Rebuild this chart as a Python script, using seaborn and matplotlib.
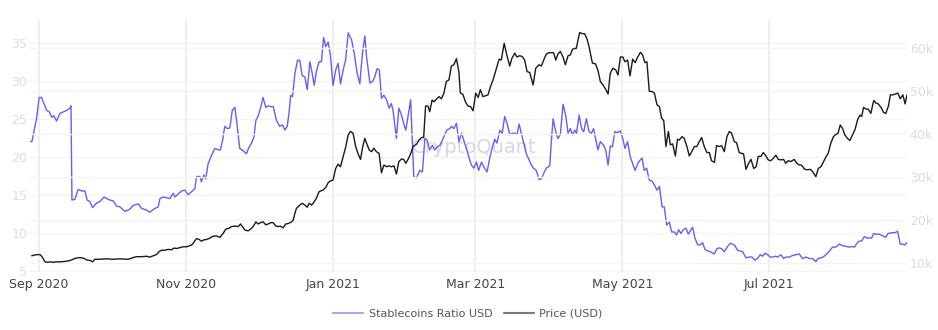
import matplotlib
matplotlib.use("Agg")
import matplotlib.pyplot as plt
from matplotlib.lines import Line2D
import seaborn as sns
import pandas as pd

START = "2020-09-01"

# Stablecoins Ratio USD (day offset from START, value)
ratio_days = [-3.7,-2.9,-1.0,0.1,1.1,3.2,4.3,5.3,6.2,7.3,8.7,10.1,11.5,12.9,13.3,13.7,14.9,16.3,17.7,19.1,20.0,21.1,22.3,23.9,25.3,27.0,28.1,29.4,30.8,32.2,33.6,35.7,37.7,39.1,41.2,42.6,44.6,46.0,48.1,49.5,50.2,51.6,52.9,54.3,55.7,56.4,57.8,59.2,60.5,61.9,63.3,64.7,65.4,66.8,67.4,68.4,69.2,70.2,71.6,73.0,74.4,75.3,76.2,77.1,78.1,79.2,80.2,81.3,82.2,83.3,84.7,86.1,87.2,88.2,89.2,90.0,90.9,92.1,93.0,94.1,95.1,96.1,97.2,98.5,99.9,101.0,102.0,103.0,103.8,104.4,105.2,106.2,107.3,108.2,109.2,110.3,111.3,112.4,113.3,114.2,115.1,116.2,
    117.2,118.1,119.0,120.0,120.9,122.0,123.1,124.1,125.1,126.2,127.2,128.3,129.7,130.8,132.0,133.1,134.2,135.2,135.9,137.3,138.4,139.3,140.3,141.2,142.1,143.1,144.2,145.3,146.2,146.9,148.3,149.3,150.4,151.3,152.2,153.1,154.2,155.5,156.6,158.0,159.1,160.1,161.0,162.1,163.2,164.2,165.2,166.3,167.4,168.3,169.3,170.4,171.2,172.1,173.2,174.2,175.3,176.2,177.3,178.3,179.4,180.4,181.5,182.4,183.6,184.5,185.9,187.0,188.1,189.1,190.0,191.2,192.2,193.2,194.2,195.3,196.4,197.4,198.4,199.2,200.1,201.1,202.2,203.3,204.3,205.2,206.3,207.5,208.4,209.4,210.5,211.9,212.6,213.3,214.4,215.3,216.3,217.4,218.5,219.5,220.5,221.3,222.3,223.0,224.1,225.1,226.0,227.1,228.2,229.2,230.1,230.9,231.9,232.9,234.3,235.1,236.1,237.0,237.9,238.9,239.9,240.7,
    241.2,242.2,243.1,244.2,245.3,246.3,247.3,248.4,249.5,250.2,251.1,252.1,253.2,254.3,255.3,256.4,257.4,258.5,259.4,260.4,261.5,262.5,263.6,264.5,265.4,266.3,267.3,268.4,269.4,270.5,271.2,272.1,273.3,274.4,275.3,276.3,277.4,278.5,280.1,281.3,282.2,283.2,284.3,285.7,286.8,287.8,288.7,289.8,290.9,291.9,293.3,294.7,295.8,297.0,298.1,299.2,300.2,301.1,302.3,303.4,304.4,305.5,306.4,307.8,308.9,309.9,311.3,312.6,314.0,315.4,316.8,318.2,319.6,320.9,322.3,323.2,324.6,325.7,327.1,328.2,329.2,330.6,332.0,333.4,334.8,336.2,337.3,338.3,339.3,340.3,341.3,342.4,343.5,344.5,345.4,346.3,347.2,348.6,350.0,351.3,352.2,353.7,355.1,356.2,357.3,358.3,359.3,360.1]
ratio_vals = [22.0,22.0,25.0,27.8,27.8,26.1,25.9,25.2,25.4,24.7,25.7,25.9,26.1,26.4,26.7,14.3,14.4,15.7,15.5,15.5,14.3,14.1,13.3,13.9,14.1,14.7,14.5,14.3,14.2,13.5,13.4,12.8,13.1,13.6,13.8,13.2,13.0,12.7,13.2,13.4,14.5,14.7,14.6,14.5,15.2,14.7,15.1,15.5,15.6,15.0,15.4,15.8,17.4,17.4,16.7,17.6,17.1,19.1,20.2,21.1,20.9,20.9,22.2,24.0,23.7,23.8,26.1,26.5,24.2,21.1,20.8,20.4,21.3,21.8,22.6,24.8,25.3,26.6,27.8,26.5,26.7,26.6,26.6,24.8,24.0,24.2,23.5,24.0,25.9,28.1,27.9,31.0,32.7,32.7,30.7,30.5,28.8,32.5,31.1,29.4,31.2,32.5,
    32.5,35.7,34.5,35.1,33.4,29.4,31.4,32.3,29.6,31.4,32.7,36.3,35.4,33.6,31.0,29.6,33.6,35.9,33.2,29.7,29.9,30.5,31.6,31.4,27.7,28.1,27.5,26.4,27.0,26.1,22.4,26.4,25.5,24.4,23.5,25.3,27.5,17.4,17.2,18.2,18.0,22.4,22.2,20.9,21.5,20.9,21.3,21.5,22.2,22.9,23.5,23.7,24.0,23.7,24.4,22.0,23.1,22.2,21.1,20.0,18.9,18.5,19.3,18.2,19.3,18.7,18.0,19.8,21.3,22.3,21.8,23.5,23.1,25.3,24.4,22.9,23.1,23.1,23.0,24.3,23.1,21.8,20.4,19.6,18.9,18.5,18.2,17.0,17.1,17.8,18.5,18.8,22.2,25.0,23.3,22.4,22.9,26.9,25.5,23.1,23.7,22.9,23.5,23.1,25.5,23.7,23.3,25.0,23.3,23.1,23.7,22.4,20.9,22.0,21.5,20.9,18.9,21.4,21.3,23.3,23.2,23.3,
    23.4,22.4,21.1,22.0,20.0,19.1,18.2,19.1,19.6,19.8,18.2,18.5,16.9,16.8,16.3,15.6,16.1,13.4,13.4,11.0,11.4,10.1,10.1,9.7,10.4,9.9,10.4,10.6,9.8,10.4,10.7,9.3,8.4,8.4,8.7,7.8,7.6,7.5,7.2,7.9,8.0,7.9,7.5,8.2,8.6,8.5,8.3,7.7,7.6,7.5,6.7,6.8,6.8,6.4,6.6,7.1,6.9,7.3,7.1,6.8,6.8,6.9,6.8,7.1,6.6,6.8,6.8,7.0,7.1,7.2,6.6,6.8,6.6,6.6,6.2,6.6,6.7,6.9,7.3,7.7,8.1,8.1,8.5,8.3,8.2,8.1,8.2,8.1,8.6,8.9,8.9,9.5,9.3,9.3,9.3,9.9,9.8,9.8,9.6,9.4,9.9,10.0,10.0,10.2,8.5,8.5,8.4,8.7]

# Price (USD), in thousands
price_days = [-3.0,-1.7,-0.3,0.7,1.5,2.5,3.5,4.6,5.9,7.3,8.7,10.8,12.9,15.0,17.0,18.7,20.0,21.4,22.3,23.2,25.3,28.1,30.8,33.6,36.4,37.7,39.1,40.5,42.6,44.6,46.0,47.4,48.8,49.9,50.9,52.2,53.6,55.0,56.0,57.1,58.5,59.8,61.2,62.3,63.3,64.0,64.7,65.4,66.5,67.4,68.4,69.5,70.9,72.3,73.7,75.1,76.4,77.5,78.9,79.9,81.3,82.7,83.6,84.4,85.4,86.8,87.8,88.9,90.0,90.9,91.9,93.0,94.1,95.1,96.1,97.2,98.3,99.2,100.2,101.3,102.4,103.4,104.8,105.5,106.2,106.8,108.2,109.3,110.3,111.3,112.1,113.1,114.0,115.1,116.2,
    117.9,119.0,120.0,120.9,122.0,123.1,124.1,125.1,126.2,127.3,128.3,129.2,130.3,131.4,132.4,133.4,134.2,135.2,135.9,137.0,138.0,138.9,140.0,141.1,142.1,143.1,144.2,145.3,146.2,147.3,148.3,149.3,150.4,151.3,152.2,153.1,154.2,155.2,156.6,157.7,158.7,159.6,160.4,161.4,162.1,163.1,163.9,164.9,166.0,167.0,168.0,169.0,170.1,171.1,172.1,173.2,174.2,174.8,175.9,176.9,178.0,179.0,180.1,181.2,182.2,183.1,184.2,185.2,186.3,187.3,188.4,189.8,190.9,191.8,193.0,193.9,195.3,196.2,197.4,198.3,199.4,200.5,201.5,202.5,203.6,205.0,206.1,207.5,208.4,209.4,210.5,211.6,212.6,213.5,214.4,215.3,216.3,217.4,218.4,219.5,220.5,221.3,222.3,222.9,224.3,225.4,226.4,227.4,228.2,229.6,230.9,231.9,232.9,234.0,235.1,236.1,237.0,238.1,239.3,240.2,
    241.2,242.2,243.1,244.2,245.2,246.3,247.3,248.4,249.5,250.4,251.4,252.2,253.2,254.3,255.3,256.4,257.4,258.3,259.2,260.1,261.1,261.9,262.9,264.0,264.9,265.6,266.8,267.7,268.8,269.8,270.8,271.9,272.9,273.9,274.9,276.0,277.1,278.1,279.0,280.2,281.1,282.2,283.2,284.3,285.4,286.4,287.3,288.5,289.4,290.5,291.5,292.3,293.3,294.4,295.4,296.5,297.5,298.4,299.5,300.5,301.6,302.5,303.6,304.7,305.7,306.7,307.8,308.9,309.8,310.8,311.9,313.3,314.4,315.4,316.3,317.7,318.9,320.0,320.9,322.3,323.3,324.4,325.5,326.4,327.4,328.5,329.6,330.6,331.5,332.4,333.4,334.3,335.4,336.4,337.5,338.5,339.6,340.6,341.3,342.1,343.1,344.0,345.1,346.3,347.2,348.2,349.3,350.4,351.3,352.4,353.2,354.2,355.2,356.3,357.3,358.4,359.3,360.1]
price_vals = [11.6,11.8,11.9,11.8,11.2,10.2,10.1,10.2,10.1,10.2,10.2,10.3,10.5,11.0,11.2,11.0,10.6,10.5,10.2,10.8,10.8,10.9,10.8,10.9,10.8,10.9,11.2,11.4,11.4,11.5,11.3,11.6,11.9,12.6,12.9,12.9,13.1,13.0,13.4,13.3,13.5,13.7,13.7,13.9,14.1,14.5,15.1,15.6,15.4,15.0,15.3,15.4,15.7,16.2,16.2,15.9,16.8,17.8,18.0,18.4,18.5,18.4,19.0,18.4,17.6,17.4,17.8,18.4,19.5,19.0,19.3,19.5,18.8,19.0,19.3,19.3,18.5,18.4,18.5,18.1,19.0,19.1,19.5,19.9,21.5,22.6,23.4,23.8,23.4,22.9,23.8,23.4,24.0,25.0,26.5,
    26.9,27.5,28.6,29.0,29.2,31.9,32.9,32.3,34.7,37.0,39.7,40.5,40.1,37.0,35.3,34.0,36.6,38.9,37.8,36.2,35.8,36.6,35.8,35.4,30.9,32.7,32.3,32.5,32.3,32.5,30.6,33.5,34.1,34.0,33.1,34.0,35.3,37.0,37.5,38.5,39.1,39.1,46.4,46.4,45.1,47.8,47.4,48.0,48.6,48.1,49.4,52.1,52.5,55.7,56.0,57.4,54.4,49.5,49.1,47.4,46.4,46.3,45.3,49.4,48.4,50.2,48.6,48.8,49.0,50.9,52.5,55.2,57.3,57.1,61.0,58.7,55.7,57.5,58.7,57.8,58.1,57.9,57.1,54.4,54.2,51.3,55.2,56.0,55.7,57.1,58.5,58.8,58.8,58.8,57.1,58.5,59.1,57.8,56.0,58.1,58.3,59.6,59.8,59.8,63.5,63.2,63.2,61.9,60.2,56.4,56.2,54.7,52.1,51.3,50.3,49.2,54.0,55.2,54.8,53.6,
    57.8,57.8,56.7,57.1,53.4,57.3,56.5,57.8,58.9,58.3,56.5,56.7,49.8,49.8,49.4,46.7,46.3,43.6,43.0,37.0,40.5,37.4,37.6,34.8,38.7,38.5,39.3,38.9,37.0,34.8,35.8,37.0,37.0,38.1,39.1,37.0,35.6,35.6,33.7,33.3,37.2,37.0,37.2,35.8,39.3,40.5,40.1,38.1,37.9,35.6,35.4,35.3,31.7,33.1,34.0,31.9,32.3,34.7,34.7,35.6,34.8,33.9,33.7,34.3,35.0,34.0,33.9,34.0,33.1,33.7,33.5,34.0,33.1,32.7,32.7,31.7,31.6,31.7,31.2,30.0,31.9,32.3,33.5,34.5,35.4,37.8,39.3,39.8,40.1,42.0,41.2,39.7,38.9,38.4,39.7,40.9,43.2,44.3,44.0,46.1,45.7,45.7,44.7,47.7,47.1,46.9,46.1,44.9,44.7,46.4,49.0,49.0,49.2,49.4,48.1,49.0,46.9,49.0]

ratio_ticks = [5, 10, 15, 20, 25, 30, 35]
price_ticks = [10, 20, 30, 40, 50, 60]
price_tick_labels = ["10k", "20k", "30k", "40k", "50k", "60k"]
month_ticks = ["2020-09-01", "2020-11-01", "2021-01-01", "2021-03-01", "2021-05-01", "2021-07-01"]
month_labels = ["Sep 2020", "Nov 2020", "Jan 2021", "Mar 2021", "May 2021", "Jul 2021"]

sns.set_theme(style="white")
plt.rcParams["font.family"] = ["DejaVu Sans"]

start = pd.Timestamp(START)
ratio_df = pd.DataFrame({"date": start + pd.to_timedelta(ratio_days, unit="D"), "value": ratio_vals})
price_df = pd.DataFrame({"date": start + pd.to_timedelta(price_days, unit="D"), "value": price_vals})

BLUE = "#6a5cf6"
BLACK = "#1a1a1a"

fig = plt.figure(figsize=(9.38, 3.30), dpi=100)
ax = fig.add_axes([30/938, 58/330, 877/938, 252/330])
ax2 = ax.twinx()

# grids
for t in ratio_ticks:
    ax.axhline(t, color="#f4f4f6", lw=1, zorder=0)
for t in pd.to_datetime(month_ticks):
    ax.axvline(t, color="#ebebeb", lw=1.2, zorder=0)

ax.text(0.507, 0.495, "CryptoQuant", transform=ax.transAxes, ha="center", va="center",
        fontsize=14, color="#cfcfdb", alpha=0.85, zorder=1)

sns.lineplot(data=ratio_df, x="date", y="value", ax=ax, color=BLUE, lw=1.0, zorder=3, legend=False)
sns.lineplot(data=price_df, x="date", y="value", ax=ax2, color=BLACK, lw=1.0, zorder=3, legend=False)
for t in price_ticks:
    ax2.axhline(t, color="#f4f4f6", lw=1, zorder=0)

ax.set_xlim(ratio_df["date"].min(), ratio_df["date"].max())
ax.set_ylim(4.83, 38.0)
ax2.set_ylim(7.84, 66.4)

ax.set_yticks(ratio_ticks)
ax.set_yticklabels([str(t) for t in ratio_ticks])
ax2.set_yticks(price_ticks)
ax2.set_yticklabels(price_tick_labels)
ax.set_xticks(pd.to_datetime(month_ticks))
ax.set_xticklabels(month_labels)

ax.tick_params(axis="y", labelsize=9, length=0, pad=2)
ax2.tick_params(axis="y", labelsize=9, length=0, pad=2)
ax.tick_params(axis="x", labelsize=9, length=0, pad=4)
for lab in ax.get_yticklabels() + ax2.get_yticklabels():
    lab.set_color("#dcdce2")
for lab in ax.get_xticklabels():
    lab.set_color("#444444")

ax.set_xlabel("")
ax.set_ylabel("")
ax2.set_ylabel("")
for a in (ax, ax2):
    for s in a.spines.values():
        s.set_visible(False)
ax.grid(False)
ax2.grid(False)

handles = [Line2D([], [], color="#ada4f7", lw=1.5), Line2D([], [], color="#7a7a7a", lw=1.5)]
fig.legend(handles, ["Stablecoins Ratio USD", "Price (USD)"], loc="center",
           bbox_to_anchor=(468/938, 1 - 314/330), ncol=2, frameon=False, fontsize=8,
           handlelength=2.7, columnspacing=1.0, handletextpad=0.5, labelcolor="#555555")

fig.savefig("out.png", dpi=100)
